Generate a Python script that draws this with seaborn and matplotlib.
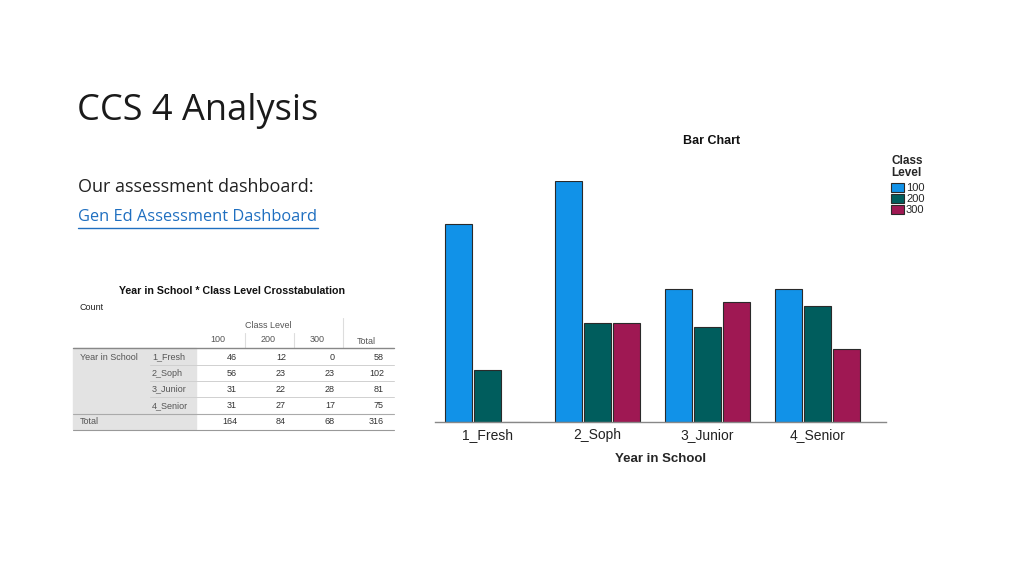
import matplotlib
matplotlib.use('Agg')
import matplotlib.pyplot as plt
from matplotlib.lines import Line2D
from matplotlib.patches import Rectangle
import seaborn as sns
import pandas as pd

# data (SPSS crosstab + bar chart)
year_levels = ['1_Fresh', '2_Soph', '3_Junior', '4_Senior']
class_levels = ['100', '200', '300']
count_100 = [46, 56, 31, 31]
count_200 = [12, 23, 22, 27]
count_300 = [0, 23, 28, 17]
class_colors = ['#1192e8', '#005d5d', '#9f1853']

if __name__ == '__main__':
    sns.set_theme(style='white')
    plt.rcParams['font.family'] = ['Liberation Sans', 'DejaVu Sans']

    counts = [count_100, count_200, count_300]
    rows = []
    for lvl, vals in zip(class_levels, counts):
        for yr, v in zip(year_levels, vals):
            rows.append({'Year in School': yr, 'Class Level': lvl, 'Count': v})
    df = pd.DataFrame(rows)

    fig = plt.figure(figsize=(10.24, 5.76), dpi=100)

    # overlay in pixel coords for slide text and the crosstab
    ov = fig.add_axes([0, 0, 1, 1])
    ov.set_xlim(0, 1024)
    ov.set_ylim(576, 0)
    ov.axis('off')

    ov.text(77, 111, 'CCS 4 Analysis', fontsize=26, family='Open Sans',
            color='#1a1a1a', va='center', ha='left')
    ov.text(78, 187, 'Our assessment dashboard:', fontsize=13, family='Open Sans',
            color='#222222', va='center', ha='left')
    ov.text(78, 217, 'Gen Ed Assessment Dashboard', fontsize=11.8, family='Open Sans',
            color='#1f6fc0', va='center', ha='left')
    ov.add_line(Line2D([78, 318], [227.5, 227.5], color='#1f6fc0', lw=1))

    # crosstab table
    fs = 6.5
    ov.text(232, 291, 'Year in School * Class Level Crosstabulation', fontsize=7.7,
            fontweight='bold', ha='center', va='center', color='#111111')
    ov.text(80, 308, 'Count', fontsize=fs, ha='left', va='center', color='#222222')
    ov.add_patch(Rectangle((73, 348), 123, 81, color='#e3e3e3', zorder=0))
    ov.text(268, 325, 'Class Level', fontsize=fs, ha='center', va='center', color='#555555')
    col_x = [218, 268, 317]
    for x, lvl in zip(col_x, class_levels):
        ov.text(x, 340, lvl, fontsize=fs, ha='center', va='center', color='#555555')
    ov.text(366, 341, 'Total', fontsize=fs, ha='center', va='center', color='#555555')
    for x in [245, 294]:
        ov.add_line(Line2D([x, x], [333, 348], color='#dddddd', lw=0.8))
    ov.add_line(Line2D([343, 343], [318, 348], color='#dddddd', lw=0.8))

    val_right = [237, 286, 335, 384]
    row_y = [357, 373, 389, 406]
    ov.text(80, 357, 'Year in School', fontsize=fs, ha='left', va='center', color='#555555')
    for i, yr in enumerate(year_levels):
        y = row_y[i]
        ov.text(152, y, yr, fontsize=fs, ha='left', va='center', color='#555555')
        vals = [count_100[i], count_200[i], count_300[i]]
        vals.append(sum(vals))
        for xr, v in zip(val_right, vals):
            ov.text(xr, y, str(v), fontsize=fs, ha='right', va='center', color='#333333')
    totals = [sum(count_100), sum(count_200), sum(count_300)]
    totals.append(sum(totals))
    ov.text(80, 422, 'Total', fontsize=fs, ha='left', va='center', color='#555555')
    for xr, v in zip(val_right, totals):
        ov.text(xr, 422, str(v), fontsize=fs, ha='right', va='center', color='#333333')

    ov.add_line(Line2D([73, 394], [348, 348], color='#888888', lw=1))
    for y in [365, 381, 397]:
        ov.add_line(Line2D([150, 394], [y, y], color='#d0d0d0', lw=0.7))
    ov.add_line(Line2D([73, 394], [413.5, 413.5], color='#aaaaaa', lw=0.8))
    ov.add_line(Line2D([73, 394], [429.5, 429.5], color='#999999', lw=0.8))

    # bar chart
    ax = fig.add_axes([435 / 1024, 1 - 422 / 576, 451 / 1024, 241 / 576])
    sns.barplot(data=df, x='Year in School', y='Count', hue='Class Level',
                hue_order=class_levels, palette=class_colors, saturation=1,
                width=0.8, gap=0.08, edgecolor='#2a2a2a', linewidth=0.8,
                ax=ax, legend=True)
    ax.set_xlim(-0.477, 3.623)
    ax.set_ylim(0, 56)
    ax.set_yticks([])
    ax.set_ylabel('')
    ax.set_xlabel('Year in School', fontsize=9.5, fontweight='bold', labelpad=8)
    ax.tick_params(axis='x', length=0, labelsize=10, pad=4, labelcolor='#222222')
    for s in ['top', 'right', 'left']:
        ax.spines[s].set_visible(False)
    ax.spines['bottom'].set_color('#888888')
    ax.spines['bottom'].set_linewidth(1)
    ax.patch.set_alpha(0)

    fig.text(712 / 1024, 1 - 141 / 576, 'Bar Chart', fontsize=9, fontweight='bold',
             ha='center', va='center', color='#111111')

    handles, labels = ax.get_legend_handles_labels()
    leg = ax.legend(handles, labels, title='Class\nLevel', loc='upper left',
                    bbox_to_anchor=(891 / 1024, 1 - 155 / 576),
                    bbox_transform=fig.transFigure, frameon=False, fontsize=8,
                    title_fontsize=8.5, handlelength=1.15, handleheight=0.85,
                    handletextpad=0.2, labelspacing=0.05, borderpad=0,
                    borderaxespad=0, alignment='left')
    leg.get_title().set_fontweight('bold')
    leg.get_title().set_linespacing(1.0)
    leg._legend_box.sep = 3

    fig.savefig('out.png', dpi=100)
